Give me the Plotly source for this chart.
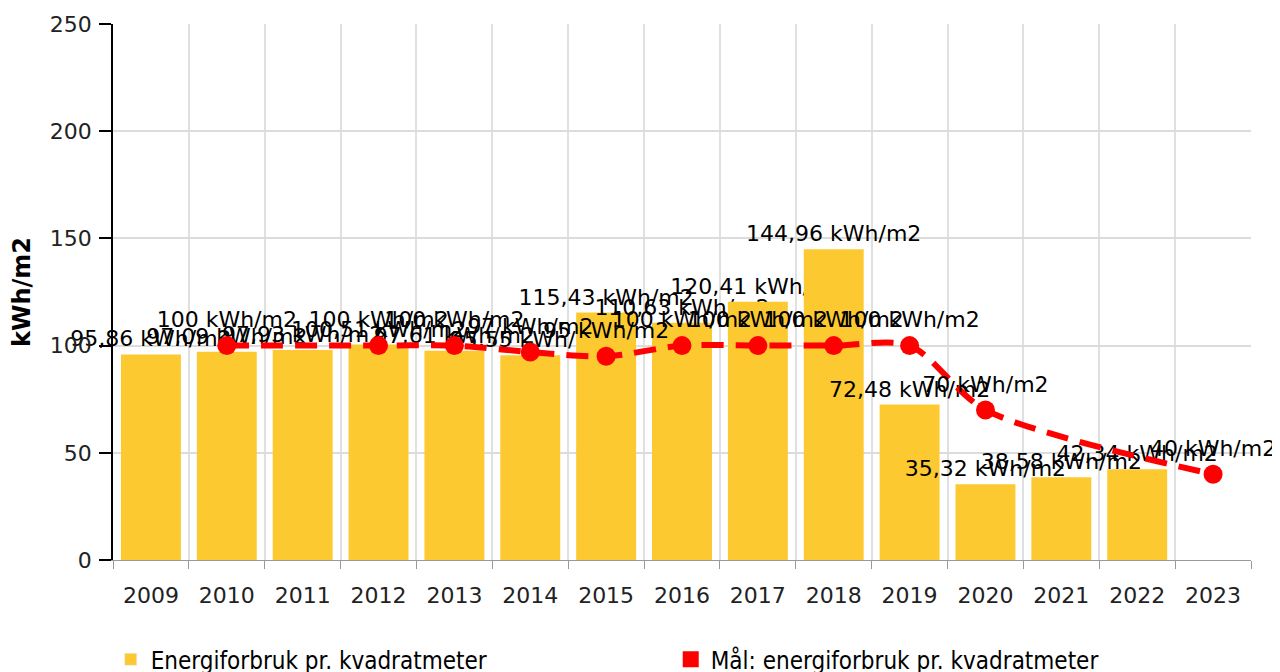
import plotly.graph_objects as go

years = list(range(2009, 2024))
tick_labels = [str(y) for y in years]
energy = [95.86, 97.09, 97.93, 100.51, 97.61, 95.55, 115.43, 110.63,
          120.41, 144.96, 72.48, 35.32, 38.58, 42.34, None]
target = [None, 100, None, 100, 100, 97, 95, 100, 100, 100, 100, 70,
          None, None, 40]

name_bar = "Energiforbruk pr. kvadratmeter"
name_line = "Mål: energiforbruk pr. kvadratmeter"
unit = "kWh/m2"

BAR_COLOR = "#FCC931"
LINE_COLOR = "#FF0000"
FONT = "DejaVu Sans"


def fmt(v, dec):
    if v is None:
        return ""
    if dec:
        return f"{v:.2f}".replace(".", ",") + " " + unit
    return f"{v:g}".replace(".", ",") + " " + unit


bar_text = [fmt(v, True) for v in energy]
line_text = [fmt(v, False) for v in target]

fig = go.Figure()
fig.add_trace(go.Bar(
    x=years, y=energy, name=name_bar, marker=dict(color=BAR_COLOR, line=dict(width=0)),
    width=0.79, text=bar_text, textposition="outside", constraintext="none",
    cliponaxis=False, textfont=dict(family=FONT, size=22, color="#000"),
    showlegend=False, hoverinfo="x+y",
))
fig.add_trace(go.Scatter(
    x=years, y=target, name=name_line, mode="lines+markers+text",
    connectgaps=True,
    line=dict(color=LINE_COLOR, width=6, dash="22px,12px", shape="spline", smoothing=0.8),
    marker=dict(color=LINE_COLOR, size=19),
    text=line_text, textposition="top center", cliponaxis=False,
    textfont=dict(family=FONT, size=22, color="#000"),
    showlegend=False,
))
# legend entries
fig.add_trace(go.Bar(x=[None], y=[None], name=name_bar,
                     marker=dict(color=BAR_COLOR), showlegend=True))
fig.add_trace(go.Scatter(x=[None], y=[None], name=name_line, mode="markers",
                         marker=dict(color=LINE_COLOR, symbol="square", size=30),
                         showlegend=True))

fig.update_layout(
    width=1272, height=664,
    margin=dict(l=105, r=29, t=16, b=112, autoexpand=False),
    paper_bgcolor="white", plot_bgcolor="white",
    font=dict(family=FONT, size=22, color="#222"),
    separators=", ",
    bargap=0.2,
    showlegend=True,
    legend=dict(orientation="h", x=-0.002, xanchor="left", y=-0.144, yanchor="top",
                font=dict(family="DejaVu Sans Condensed", size=24, color="#000"),
                entrywidth=515, entrywidthmode="pixels", itemsizing="trace",
                traceorder="normal"),
    xaxis=dict(
        range=[2008.5, 2023.5], tickmode="array", tickvals=years, ticktext=tick_labels,
        showgrid=False, zeroline=False, automargin=False,
        showline=True, linecolor="#999", linewidth=1,
        ticks="outside", ticklen=16, tickcolor="rgba(0,0,0,0)",
        tickfont=dict(family=FONT, size=22, color="#222"),
        minor=dict(tick0=2008.5, dtick=1, showgrid=True, gridcolor="#e0e0e0",
                   gridwidth=1.5, ticks="outside", ticklen=8, tickcolor="#999"),
    ),
    yaxis=dict(
        range=[0, 250], tickvals=[0, 50, 100, 150, 200, 250],
        showgrid=True, gridcolor="#dcdcdc", gridwidth=1.5, zeroline=False,
        showline=True, linecolor="#000", linewidth=1.5, automargin=False,
        ticks="outside", ticklen=12, tickcolor="#000", tickwidth=1.5,
        ticklabelstandoff=3,
        tickfont=dict(family=FONT, size=22, color="#222"),
        title=dict(text="<b>kWh/m2</b>", font=dict(family=FONT, size=24, color="#000"),
                   standoff=13),
    ),
)

fig.write_html("out.html")
